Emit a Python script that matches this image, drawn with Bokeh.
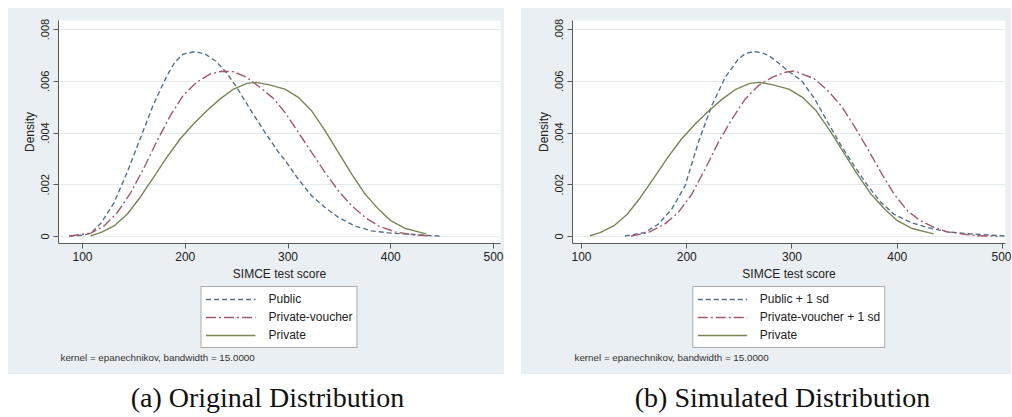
from bokeh.plotting import figure
from bokeh.models import (FixedTicker, CustomJSTickFormatter, Legend, LegendItem,
                          Range1d, Spacer)
from bokeh.layouts import row, column
from bokeh.embed import file_html
from bokeh.resources import INLINE
from bokeh.core.properties import value

# ---------------- data ----------------
x_ticks = [100, 200, 300, 400, 500]
y_ticks = [0, 0.002, 0.004, 0.006, 0.008]

# Panel (a): original distribution
public_x = [87, 100, 108, 117.7, 130.6, 143.5, 156, 169, 182, 190, 198, 209.7, 220, 230, 240,
            250, 263, 276, 290, 297, 310, 323, 336, 349, 365, 381, 400, 423, 449]
public_y = [0.00002, 0.00005, 0.00012, 0.0005, 0.0013, 0.00248, 0.00377, 0.0051, 0.0062,
            0.00675, 0.00705, 0.00715, 0.00704, 0.00677, 0.00634, 0.00577, 0.00493, 0.00412,
            0.0033, 0.00295, 0.00222, 0.00157, 0.00112, 0.00074, 0.00041, 0.00022, 0.00013,
            0.00008, 0.00001]

voucher_x = [87, 108, 121, 134, 147, 160, 172.6, 185.5, 198, 211, 224, 235.5, 247, 260,
             272.6, 285.5, 297, 310, 323, 336, 349, 362, 375, 388, 404, 423, 439]
voucher_y = [0.00002, 0.00013, 0.00041, 0.00093, 0.0017, 0.00267, 0.0037, 0.00467, 0.00545,
             0.00596, 0.00628, 0.00639, 0.00637, 0.00615, 0.00577, 0.00535, 0.0048, 0.00403,
             0.00325, 0.00248, 0.00177, 0.00119, 0.00074, 0.00041, 0.00018, 0.00006, 0.00002]

private_x = [108, 117.7, 130.6, 143.5, 156, 169, 182, 195, 208, 221, 234, 247, 260, 269,
             282, 297, 310, 323, 336, 349, 362, 375, 388, 400, 413.5, 429.7, 434.5]
private_y = [0.00003, 0.00015, 0.00041, 0.00086, 0.00151, 0.00228, 0.00306, 0.00377, 0.00435,
             0.00486, 0.00532, 0.0057, 0.00592, 0.00596, 0.00586, 0.0057, 0.00538, 0.00486,
             0.00409, 0.00325, 0.00241, 0.00164, 0.00106, 0.00061, 0.00032, 0.00015, 0.0001]

# Panel (b): simulated distribution
public_sd_x = [141.3, 160, 173, 185.7, 198.4, 211, 223.8, 236.5, 249, 256, 263.5, 271, 277.8,
               290.5, 296, 309, 321.5, 334, 346.7, 359, 372, 384.5, 397, 413, 428.7, 447.6,
               473, 502]
public_sd_y = [0.00002, 0.00015, 0.00048, 0.00106, 0.00196, 0.00364, 0.00506, 0.00615, 0.00686,
               0.00708, 0.00715, 0.00711, 0.007, 0.0066, 0.00641, 0.00603, 0.00532, 0.00441,
               0.00351, 0.00274, 0.00196, 0.00132, 0.00086, 0.00054, 0.00035, 0.00018,
               0.00009, 0.00002]

voucher_sd_x = [147, 163.5, 179, 192, 204.8, 217.5, 230, 243, 255.6, 268, 281, 293.6, 302.5,
                321.5, 334, 346.7, 359, 372, 384.5, 397, 409.8, 422, 435, 447.6, 463.4, 476, 495]
voucher_sd_y = [0.00002, 0.00015, 0.00048, 0.00093, 0.00164, 0.00261, 0.00364, 0.00454, 0.00532,
                0.00583, 0.00615, 0.00635, 0.0064, 0.00609, 0.00564, 0.00506, 0.00428, 0.00338,
                0.00248, 0.00164, 0.00099, 0.00061, 0.00035, 0.00018, 0.00009, 0.00003, 0.00001]

labels_a = ["Public", "Private-voucher", "Private"]
labels_b = ["Public + 1 sd", "Private-voucher + 1 sd", "Private"]
note_text = "kernel = epanechnikov, bandwidth = 15.0000"
caption_a = "(a) Original Distribution"
caption_b = "(b) Simulated Distribution"

# ---------------- style ----------------
BG = "#e9eff2"
GRID = "#e4ebef"
AXIS = "#5a5a5a"
C_PUB = "#56708b"
C_VOU = "#a35b6b"
C_PRI = "#788556"
FONT = "Liberation Sans"
STYLES = [(C_PUB, "5 3"), (C_VOU, "10 3 2 3"), (C_PRI, "solid")]
MAIN_H = 278
LOWER_H = 88
CAP_H = 42
HIDE = 20  # lower panel's y-range starts above the data, so its lines stay off-frame


def make_main(width, xr, left, right, series):
    p = figure(width=width, height=MAIN_H, x_range=Range1d(*xr),
               y_range=Range1d(-0.00027, 0.00835),
               output_backend="svg", toolbar_location=None,
               min_border_left=left, min_border_right=right,
               min_border_top=12, min_border_bottom=43,
               background_fill_color="white", border_fill_color=BG,
               outline_line_color=None)
    p.xgrid.visible = False
    p.ygrid.grid_line_color = GRID
    p.ygrid.grid_line_width = 1

    p.xaxis.ticker = FixedTicker(ticks=x_ticks)
    p.yaxis.ticker = FixedTicker(ticks=y_ticks)
    p.yaxis.formatter = CustomJSTickFormatter(
        code="return tick == 0 ? '0' : tick.toFixed(3).replace(/^0/, '');")
    p.yaxis.major_label_orientation = "vertical"
    for ax in (p.xaxis[0], p.yaxis[0]):
        ax.axis_line_color = AXIS
        ax.major_tick_line_color = AXIS
        ax.minor_tick_line_color = None
        ax.major_tick_out = 5
        ax.major_tick_in = 0
        ax.major_label_text_font = FONT
        ax.major_label_text_color = "#222222"
        ax.axis_label_text_font = FONT
        ax.axis_label_text_font_style = "normal"
        ax.axis_label_text_color = "#222222"
        ax.axis_label_text_font_size = "12px"
    p.xaxis.major_label_text_font_size = "12px"
    p.yaxis.major_label_text_font_size = "11px"
    p.xaxis.major_label_standoff = 3
    p.xaxis.axis_label_standoff = 3
    p.yaxis.major_label_standoff = 4
    p.yaxis.axis_label_standoff = 2
    p.xaxis.axis_label = "SIMCE test score"
    p.yaxis.axis_label = "Density"

    for (xs, ys), (col, dash) in zip(series, STYLES):
        p.line(xs, ys, line_color=col, line_width=1.4, line_dash=dash)
    return p


def make_lower(width, xr, left, right, series, labels):
    q = figure(width=width, height=LOWER_H, x_range=Range1d(*xr),
               y_range=Range1d(HIDE, HIDE + LOWER_H),
               output_backend="svg", toolbar_location=None,
               min_border_left=left, min_border_right=right,
               min_border_top=0, min_border_bottom=0,
               x_axis_type=None, y_axis_type=None, outline_line_color=None,
               background_fill_color=BG, border_fill_color=BG)
    q.grid.visible = False
    items = []
    for (xs, ys), (col, dash), lab in zip(series, STYLES, labels):
        r = q.line(xs, ys, line_color=col, line_width=1.4, line_dash=dash)
        items.append(LegendItem(label=lab, renderers=[r]))
    leg = Legend(items=items, location="top_center", orientation="vertical",
                 glyph_width=50, glyph_height=16, label_height=16,
                 label_standoff=13, spacing=2, padding=4, margin=0,
                 label_text_font=FONT, label_text_font_size="12px",
                 label_text_color="#222222",
                 border_line_color="#555555", border_line_width=1,
                 background_fill_color="white", background_fill_alpha=1.0)
    q.add_layout(leg, "center")
    q.text(x=[xr[0]], y=[HIDE + LOWER_H - 71], text=[note_text], text_font=value(FONT),
           text_font_size="9.8px", text_align="left", text_baseline="middle",
           text_color="#333333", x_offset=2)
    return q


def make_caption(width, cx, text):
    c = figure(width=width, height=CAP_H, x_range=Range1d(0, width), y_range=Range1d(0, CAP_H),
               output_backend="svg", toolbar_location=None, min_border=0,
               x_axis_type=None, y_axis_type=None, outline_line_color=None,
               background_fill_color="white", border_fill_color="white")
    c.grid.visible = False
    c.text(x=[cx], y=[CAP_H - 23], text=[text], text_font=value("Liberation Serif"),
           text_font_size="28px", text_align="center", text_baseline="middle",
           text_color="#111111")
    return c


series_a = [(public_x, public_y), (voucher_x, voucher_y), (private_x, private_y)]
series_b = [(public_sd_x, public_sd_y), (voucher_sd_x, voucher_sd_y), (private_x, private_y)]
xr_a = (76.64, 506.8)
xr_b = (91.45, 502.85)

pa = make_main(496, xr_a, 50, 4, series_a)
la = make_lower(496, xr_a, 50, 4, series_a, labels_a)
ca = make_caption(496, 259, caption_a)

pb = make_main(490, xr_b, 51, 6, series_b)
lb = make_lower(490, xr_b, 51, 6, series_b, labels_b)
cb = make_caption(490, 261, caption_b)

panel_a = column(column(pa, la, styles={"background-color": BG}), ca)
panel_b = column(column(pb, lb, styles={"background-color": BG}), cb)

layout = column(
    Spacer(width=10, height=8),
    row(Spacer(width=8, height=10), panel_a, Spacer(width=17, height=10), panel_b),
)

open("out.html", "w").write(file_html(layout, INLINE))
